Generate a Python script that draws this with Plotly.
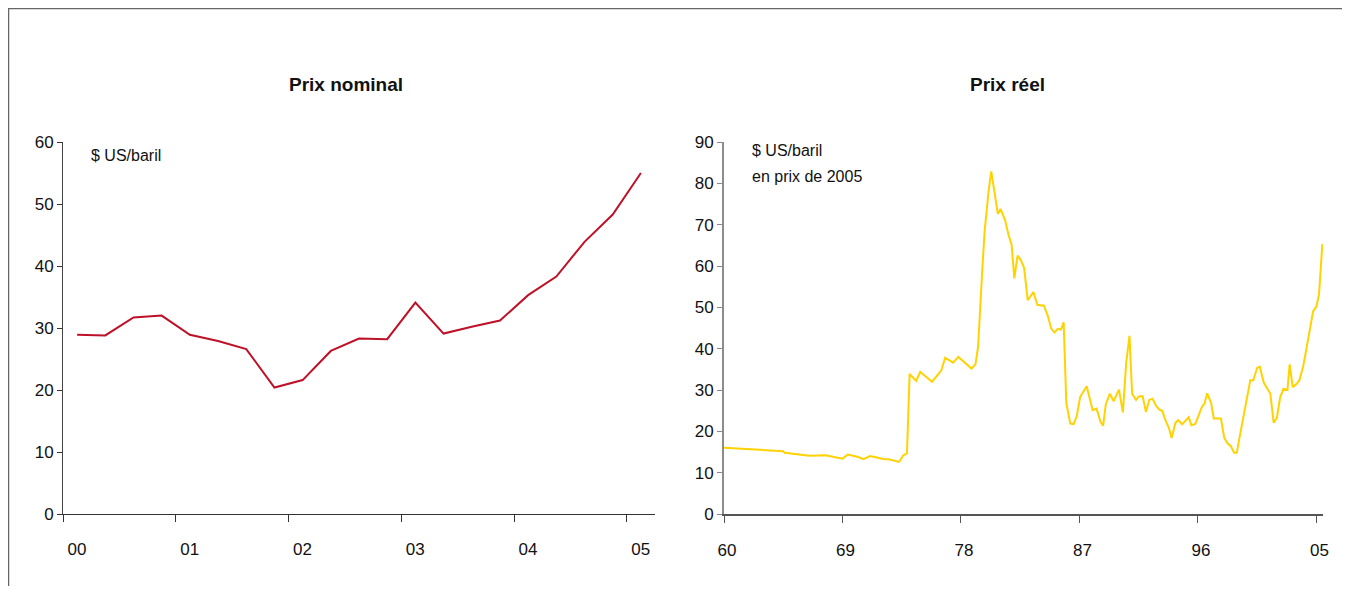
import plotly.graph_objects as go

# ---- Données : prix nominal (trimestriel, $ US/baril) ----
trimestres = ["2000T1", "2000T2", "2000T3", "2000T4",
              "2001T1", "2001T2", "2001T3", "2001T4",
              "2002T1", "2002T2", "2002T3", "2002T4",
              "2003T1", "2003T2", "2003T3", "2003T4",
              "2004T1", "2004T2", "2004T3", "2004T4",
              "2005T1"]
prix_nominal = [28.9, 28.8, 31.7, 32.0,
                28.9, 27.9, 26.6, 20.4,
                21.6, 26.3, 28.3, 28.2,
                34.1, 29.1, 30.2, 31.2,
                35.3, 38.3, 43.9, 48.3,
                55.0]
etiquettes_nominal = ["00", "01", "02", "03", "04", "05"]

# ---- Données : prix réel (en prix de 2005) ----
annees_reel = [1960.0, 1961.7, 1964.5, 1964.6, 1966.5, 1967.7, 1968.5, 1969.0,
               1969.4, 1970.2, 1970.6, 1971.1, 1972.1, 1972.6, 1973.3, 1973.6,
               1973.9, 1974.1, 1974.6, 1974.9, 1975.8, 1976.2, 1976.5, 1976.8,
               1977.4, 1977.8, 1978.8, 1979.1, 1979.3, 1979.6, 1979.8, 1980.1,
               1980.3, 1980.8, 1981.0, 1981.35, 1981.6, 1981.85, 1982.05, 1982.3,
               1982.55, 1982.8, 1983.07, 1983.5, 1983.8, 1984.3, 1984.6, 1984.85,
               1985.1, 1985.35, 1985.6, 1985.8, 1986.0, 1986.3, 1986.55, 1986.8,
               1987.05, 1987.55, 1988.0, 1988.3, 1988.6, 1988.8, 1989.0, 1989.3,
               1989.6, 1990.0, 1990.3, 1990.55, 1990.8, 1991.0, 1991.3, 1991.55,
               1991.8, 1992.05, 1992.3, 1992.55, 1992.8, 1993.05, 1993.3, 1993.55,
               1993.8, 1994.0, 1994.3, 1994.5, 1994.8, 1995.3, 1995.5, 1995.8,
               1996.05, 1996.3, 1996.5, 1996.7, 1997.0, 1997.2, 1997.75, 1998.0,
               1998.25, 1998.5, 1998.75, 1998.95, 1999.2, 1999.5, 1999.7, 1999.98,
               2000.2, 2000.5, 2000.7, 2001.0, 2001.25, 2001.5, 2001.75, 2002.0,
               2002.25, 2002.5, 2002.8, 2002.97, 2003.2, 2003.5, 2003.7, 2004.0,
               2004.2, 2004.5, 2004.75, 2005.0, 2005.2, 2005.45]
prix_reel = [16.0, 15.75, 15.2, 14.8, 14.1, 14.2, 13.8, 13.4,
             14.4, 13.8, 13.25, 14.0, 13.3, 13.2, 12.6, 14.1,
             14.7, 33.9, 32.2, 34.4, 32.0, 33.4, 34.7, 37.8,
             36.6, 38.0, 35.2, 36.2, 40.4, 58.0, 68.5, 78.2,
             82.9, 72.6, 73.8, 71.1, 67.7, 65.1, 57.0, 62.5,
             61.4, 59.5, 51.7, 53.7, 50.6, 50.4, 47.9, 44.9,
             43.9, 44.8, 44.6, 46.4, 26.9, 21.9, 21.7, 23.7,
             28.3, 30.9, 25.1, 25.5, 22.3, 21.4, 26.5, 29.1,
             27.3, 30.1, 24.6, 36.6, 43.1, 29.1, 27.6, 28.5,
             28.5, 24.7, 27.6, 27.9, 26.3, 25.3, 24.9, 22.5,
             20.8, 18.4, 22.1, 22.7, 21.7, 23.4, 21.5, 21.8,
             23.7, 25.9, 26.7, 29.2, 26.9, 23.1, 23.1, 18.4,
             17.1, 16.4, 14.8, 14.8, 19.2, 24.5, 27.7, 32.4,
             32.3, 35.4, 35.6, 31.8, 30.4, 29.1, 22.1, 23.3,
             28.3, 30.3, 30.0, 36.2, 30.7, 31.5, 32.3, 35.8,
             39.3, 45.1, 49.1, 50.2, 53.2, 65.3]
annees_ticks = [1960, 1969, 1978, 1987, 1996, 2005]
etiquettes_reel = ["60", "69", "78", "87", "96", "05"]

FONT = "Liberation Sans, Arial, sans-serif"

fig = go.Figure()
fig.add_trace(go.Scatter(x=trimestres, y=prix_nominal, mode="lines",
                         line=dict(color="#BE1128", width=2),
                         xaxis="x", yaxis="y", showlegend=False))
fig.add_trace(go.Scatter(x=annees_reel, y=prix_reel, mode="lines",
                         line=dict(color="#FFD200", width=2),
                         xaxis="x2", yaxis="y2", showlegend=False))

n = len(trimestres)
bornes = [i - 0.5 for i in range(0, n, 4)]

fig.update_layout(
    width=1342, height=578,
    margin=dict(l=55, r=27, t=134, b=72),
    paper_bgcolor="white", plot_bgcolor="white",
    font=dict(family=FONT, size=17, color="#111"),
    xaxis=dict(domain=[0, 592 / 1260], type="category", categoryarray=trimestres,
               range=[-0.5, n - 0.5], tickmode="array", tickvals=bornes,
               ticktext=etiquettes_nominal, ticks="outside", ticklen=7,
               tickcolor="#333", showline=True, linecolor="#333", linewidth=1,
               showgrid=False, zeroline=False, ticklabelshift=14,
               ticklabelstandoff=13, tickfont=dict(size=17)),
    yaxis=dict(domain=[0, 1], range=[0, 60], dtick=10, ticks="outside", ticklen=5,
               tickcolor="#333", showline=True, linecolor="#444", linewidth=1,
               showgrid=False, zeroline=False, tickfont=dict(size=17)),
    xaxis2=dict(domain=[661 / 1260, 1], anchor="y2", range=[1960, 2005.5],
                tickmode="array", tickvals=annees_ticks, ticktext=etiquettes_reel,
                ticks="outside", ticklen=7, tickcolor="#555", showline=True,
                linecolor="#555", linewidth=2, showgrid=False, zeroline=False,
                ticklabelshift=3, ticklabelstandoff=13, tickfont=dict(size=17)),
    yaxis2=dict(domain=[0, 1], anchor="x2", range=[0, 90], dtick=10,
                ticks="outside", ticklen=5, tickcolor="#888", showline=True,
                linecolor="#8c8c8c", linewidth=2, showgrid=False, zeroline=False,
                tickfont=dict(size=17)),
)

fig.add_annotation(text="<b>Prix nominal</b>", xref="paper", yref="paper",
                   x=(345.5 - 63) / 1260, y=(514 - 85) / 372, showarrow=False,
                   xanchor="center", yanchor="middle", font=dict(size=19, family=FONT))
fig.add_annotation(text="<b>Prix réel</b>", xref="paper", yref="paper",
                   x=(1007.5 - 63) / 1260, y=(514 - 85) / 372, showarrow=False,
                   xanchor="center", yanchor="middle", font=dict(size=19, family=FONT))
fig.add_annotation(text="$ US/baril", xref="paper", yref="paper",
                   x=(89 - 63) / 1260, y=(514 - 155) / 372, showarrow=False,
                   xanchor="left", yanchor="middle", font=dict(size=16, family=FONT))
fig.add_annotation(text="$ US/baril", xref="paper", yref="paper",
                   x=(750 - 63) / 1260, y=(514 - 150) / 372, showarrow=False,
                   xanchor="left", yanchor="middle", font=dict(size=16, family=FONT))
fig.add_annotation(text="en prix de 2005", xref="paper", yref="paper",
                   x=(750 - 63) / 1260, y=(514 - 176) / 372, showarrow=False,
                   xanchor="left", yanchor="middle", font=dict(size=16, family=FONT))

# cadre extérieur (gauche, haut, droite)
x0, x1 = (8.5 - 63) / 1260, (1348.5 - 63) / 1260
y_top, y_bot = (514 - 8.5) / 372, (514 - 600) / 372
fig.add_shape(type="path", xref="paper", yref="paper",
              path=f"M {x0},{y_bot} L {x0},{y_top} L {x1},{y_top} L {x1},{y_bot}",
              line=dict(color="#666", width=1.5))

fig.write_html("out.html")
